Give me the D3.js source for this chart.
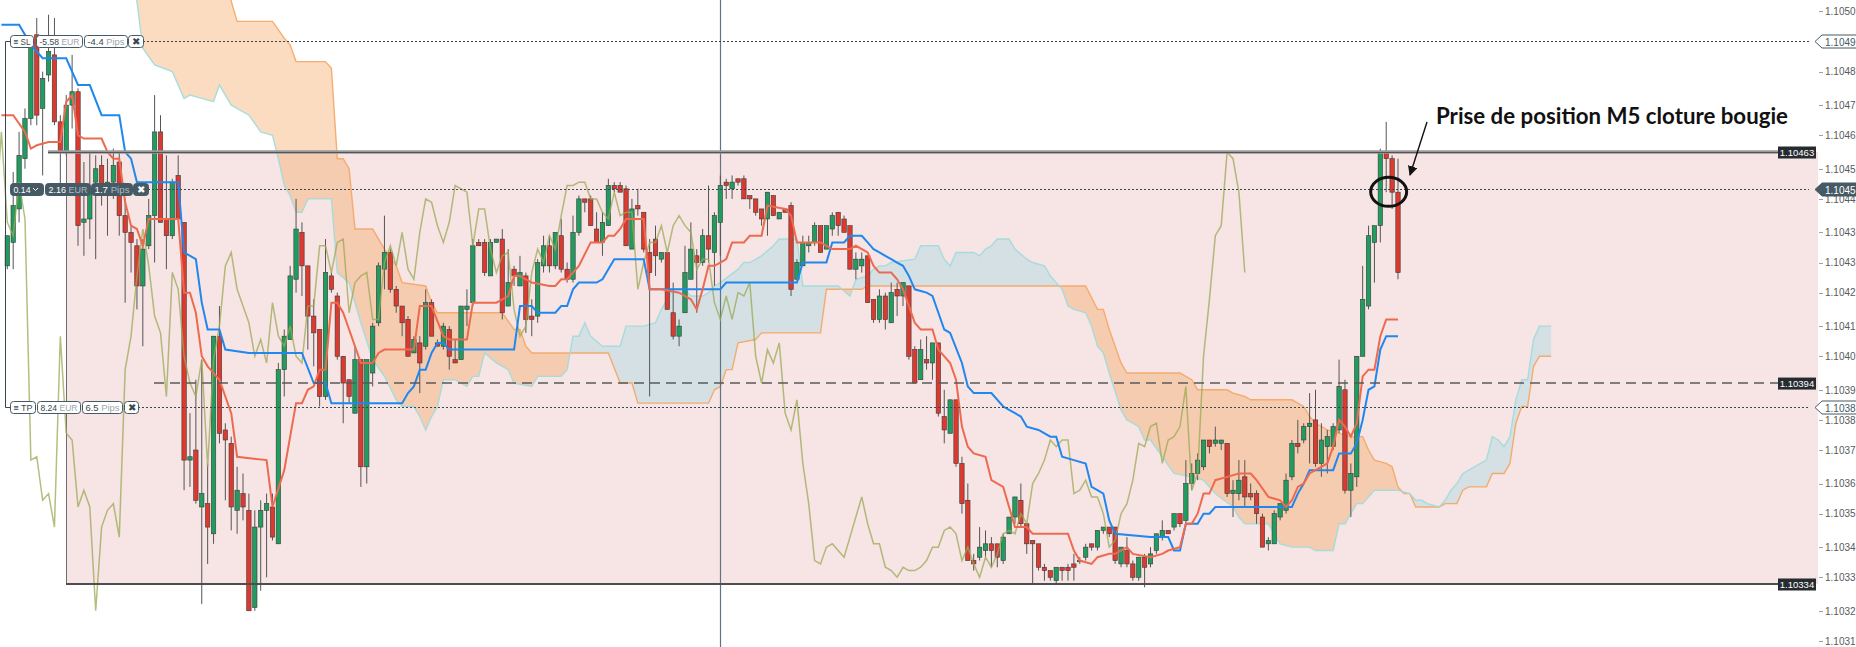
<!DOCTYPE html>
<html>
<head>
<meta charset="utf-8">
<script src="https://cdn.jsdelivr.net/npm/d3@7"></script>
<style>
  html, body { margin: 0; padding: 0; background: #fff; overflow: hidden; }
  svg { display: block; font-family: "Liberation Sans", Arial, sans-serif; }
</style>
</head>
<body>
<svg id="MyGraph" width="1856" height="647"></svg>
<script>
// ---- candles, M1 bars, [open, high, low, close]
var ohlc = [
[1.10429,1.10438,1.10428,1.10438],[1.10436,1.10457,1.10428,1.10447],[1.10446,1.10469,1.10442,1.10462],[1.10461,1.10476,1.10458,1.10473],
[1.10473,1.10497,1.10471,1.10496],[1.10498,1.10503,1.10471,1.10474],[1.10476,1.10487,1.10456,1.10485],[1.10486,1.10504,1.10484,1.10493],
[1.10492,1.10503,1.10471,1.10472],[1.10472,1.10474,1.10453,1.10463],[1.10463,1.10480,1.10462,1.10477],[1.10477,1.10492,1.10470,1.10481],
[1.10481,1.10482,1.10435,1.10441],[1.10442,1.10460,1.10432,1.10443],[1.10443,1.10463,1.10437,1.10451],[1.10454,1.10462,1.10431,1.10458],
[1.10459,1.10462,1.10447,1.10453],[1.10453,1.10461,1.10438,1.10454],[1.10454,1.10464,1.10449,1.10459],[1.10460,1.10463,1.10438,1.10444],
[1.10444,1.10449,1.10418,1.10439],[1.10439,1.10441,1.10427,1.10436],[1.10435,1.10437,1.10416,1.10423],[1.10423,1.10437,1.10405,1.10434],
[1.10435,1.10449,1.10434,1.10444],[1.10444,1.10480,1.10430,1.10469],[1.10469,1.10474,1.10442,1.10442],[1.10443,1.10462,1.10428,1.10438],
[1.10438,1.10455,1.10437,1.10454],[1.10456,1.10462,1.10443,1.10443],[1.10442,1.10442,1.10362,1.10371],[1.10371,1.10385,1.10363,1.10372],
[1.10374,1.10395,1.10358,1.10359],[1.10357,1.10401,1.10328,1.10361],[1.10358,1.10370,1.10340,1.10351],[1.10349,1.10408,1.10346,1.10408],
[1.10408,1.10417,1.10376,1.10379],[1.10380,1.10382,1.10359,1.10377],[1.10376,1.10378,1.10350,1.10357],[1.10356,1.10369,1.10349,1.10362],
[1.10361,1.10367,1.10353,1.10357],[1.10356,1.10361,1.10326,1.10326],[1.10327,1.10356,1.10326,1.10351],[1.10351,1.10359,1.10332,1.10356],
[1.10356,1.10361,1.10336,1.10358],[1.10357,1.10361,1.10347,1.10348],[1.10346,1.10400,1.10346,1.10398],[1.10398,1.10410,1.10390,1.10408],
[1.10407,1.10429,1.10407,1.10426],[1.10425,1.10449,1.10421,1.10440],[1.10439,1.10442,1.10420,1.10429],[1.10429,1.10429,1.10404,1.10414],
[1.10414,1.10419,1.10399,1.10409],[1.10410,1.10410,1.10387,1.10390],[1.10390,1.10437,1.10389,1.10427],[1.10426,1.10427,1.10421,1.10422],
[1.10420,1.10421,1.10401,1.10402],[1.10402,1.10402,1.10382,1.10394],[1.10395,1.10395,1.10388,1.10390],[1.10385,1.10405,1.10385,1.10401],
[1.10401,1.10401,1.10363,1.10369],[1.10369,1.10401,1.10364,1.10401],[1.10397,1.10412,1.10393,1.10411],[1.10412,1.10430,1.10411,1.10429],
[1.10428,1.10444,1.10422,1.10433],[1.10433,1.10434,1.10421,1.10422],[1.10422,1.10423,1.10415,1.10417],[1.10417,1.10417,1.10408,1.10412],
[1.10413,1.10414,1.10402,1.10402],[1.10403,1.10408,1.10403,1.10407],[1.10406,1.10408,1.10391,1.10400],[1.10405,1.10422,1.10404,1.10418],
[1.10418,1.10419,1.10408,1.10408],[1.10406,1.10407,1.10405,1.10405],[1.10405,1.10412,1.10404,1.10411],[1.10410,1.10411,1.10398,1.10402],
[1.10401,1.10407,1.10400,1.10400],[1.10401,1.10417,1.10401,1.10417],[1.10416,1.10422,1.10411,1.10417],[1.10418,1.10437,1.10417,1.10435],
[1.10436,1.10437,1.10435,1.10435],[1.10436,1.10437,1.10426,1.10427],[1.10426,1.10437,1.10426,1.10436],[1.10436,1.10437,1.10436,1.10437],
[1.10437,1.10440,1.10413,1.10415],[1.10417,1.10434,1.10417,1.10424],[1.10428,1.10429,1.10423,1.10426],[1.10423,1.10432,1.10423,1.10427],
[1.10426,1.10427,1.10409,1.10413],[1.10414,1.10419,1.10408,1.10413],[1.10414,1.10431,1.10412,1.10430],[1.10429,1.10438,1.10427,1.10435],
[1.10435,1.10438,1.10427,1.10429],[1.10429,1.10439,1.10428,1.10439],[1.10438,1.10443,1.10427,1.10428],[1.10428,1.10430,1.10424,1.10425],
[1.10425,1.10444,1.10424,1.10439],[1.10439,1.10450,1.10438,1.10449],[1.10449,1.10449,1.10445,1.10448],[1.10449,1.10450,1.10441,1.10441],
[1.10440,1.10445,1.10436,1.10436],[1.10436,1.10445,1.10432,1.10442],[1.10441,1.10455,1.10441,1.10453],[1.10453,1.10454,1.10451,1.10452],
[1.10453,1.10454,1.10451,1.10451],[1.10452,1.10453,1.10435,1.10435],[1.10434,1.10449,1.10434,1.10446],[1.10447,1.10452,1.10444,1.10446],
[1.10445,1.10445,1.10433,1.10434],[1.10433,1.10437,1.10390,1.10427],[1.10437,1.10441,1.10426,1.10432],[1.10431,1.10433,1.10430,1.10433],
[1.10433,1.10433,1.10416,1.10416],[1.10415,1.10424,1.10407,1.10408],[1.10408,1.10413,1.10405,1.10411],[1.10415,1.10435,1.10415,1.10427],
[1.10425,1.10442,1.10425,1.10434],[1.10432,1.10434,1.10415,1.10430],[1.10430,1.10440,1.10429,1.10438],[1.10438,1.10453,1.10430,1.10434],
[1.10433,1.10445,1.10423,1.10444],[1.10442,1.10456,1.10432,1.10453],[1.10454,1.10455,1.10449,1.10453],[1.10452,1.10456,1.10449,1.10454],
[1.10455,1.10455,1.10453,1.10454],[1.10455,1.10456,1.10449,1.10449],[1.10450,1.10450,1.10446,1.10449],[1.10449,1.10449,1.10444,1.10445],
[1.10446,1.10446,1.10441,1.10443],[1.10443,1.10451,1.10438,1.10451],[1.10450,1.10450,1.10444,1.10444],[1.10443,1.10445,1.10443,1.10445],
[1.10446,1.10446,1.10445,1.10445],[1.10447,1.10448,1.10420,1.10422],[1.10425,1.10431,1.10425,1.10430],[1.10429,1.10438,1.10429,1.10436],
[1.10435,1.10438,1.10433,1.10436],[1.10436,1.10442,1.10435,1.10441],[1.10441,1.10441,1.10433,1.10433],[1.10434,1.10441,1.10434,1.10441],
[1.10440,1.10445,1.10438,1.10444],[1.10445,1.10445,1.10438,1.10441],[1.10443,1.10444,1.10439,1.10439],[1.10441,1.10441,1.10428,1.10428],
[1.10428,1.10433,1.10425,1.10431],[1.10429,1.10433,1.10427,1.10431],[1.10432,1.10432,1.10418,1.10418],[1.10419,1.10419,1.10412,1.10413],
[1.10413,1.10422,1.10412,1.10420],[1.10420,1.10421,1.10410,1.10413],[1.10412,1.10424,1.10412,1.10421],[1.10422,1.10424,1.10414,1.10420],
[1.10420,1.10424,1.10417,1.10424],[1.10423,1.10423,1.10401,1.10402],[1.10404,1.10405,1.10394,1.10394],[1.10395,1.10407,1.10395,1.10404],
[1.10401,1.10408,1.10398,1.10400],[1.10400,1.10406,1.10395,1.10406],[1.10406,1.10406,1.10384,1.10385],[1.10384,1.10392,1.10376,1.10380],
[1.10379,1.10389,1.10379,1.10389],[1.10389,1.10389,1.10369,1.10370],[1.10370,1.10372,1.10355,1.10358],[1.10359,1.10364,1.10341,1.10341],
[1.10341,1.10343,1.10338,1.10340],[1.10342,1.10351,1.10341,1.10345],[1.10344,1.10350,1.10342,1.10346],[1.10346,1.10348,1.10339,1.10344],
[1.10346,1.10346,1.10339,1.10342],[1.10341,1.10349,1.10340,1.10348],[1.10349,1.10354,1.10349,1.10354],[1.10354,1.10360,1.10352,1.10360],
[1.10359,1.10364,1.10351,1.10352],[1.10352,1.10352,1.10343,1.10346],[1.10347,1.10347,1.10334,1.10346],[1.10346,1.10346,1.10338,1.10339],
[1.10339,1.10340,1.10335,1.10338],[1.10338,1.10338,1.10335,1.10336],[1.10335,1.10339,1.10334,1.10339],[1.10339,1.10339,1.10335,1.10338],
[1.10339,1.10340,1.10335,1.10338],[1.10340,1.10343,1.10335,1.10339],[1.10341,1.10342,1.10340,1.10341],[1.10342,1.10346,1.10341,1.10345],
[1.10346,1.10346,1.10344,1.10345],[1.10345,1.10350,1.10344,1.10350],[1.10350,1.10351,1.10349,1.10351],[1.10351,1.10351,1.10348,1.10349],
[1.10351,1.10351,1.10340,1.10341],[1.10340,1.10345,1.10339,1.10345],[1.10344,1.10348,1.10339,1.10340],[1.10340,1.10341,1.10335,1.10336],
[1.10336,1.10342,1.10335,1.10342],[1.10342,1.10343,1.10333,1.10339],[1.10340,1.10345,1.10339,1.10343],[1.10344,1.10349,1.10343,1.10349],
[1.10348,1.10353,1.10347,1.10350],[1.10350,1.10350,1.10349,1.10349],[1.10351,1.10355,1.10350,1.10355],[1.10355,1.10355,1.10351,1.10352],
[1.10353,1.10371,1.10352,1.10364],[1.10364,1.10370,1.10362,1.10367],[1.10367,1.10373,1.10365,1.10371],[1.10369,1.10377,1.10368,1.10377],
[1.10377,1.10377,1.10373,1.10375],[1.10376,1.10381,1.10375,1.10377],[1.10376,1.10377,1.10374,1.10377],[1.10376,1.10376,1.10360,1.10361],
[1.10361,1.10365,1.10354,1.10362],[1.10361,1.10371,1.10359,1.10365],[1.10366,1.10371,1.10357,1.10360],[1.10361,1.10364,1.10359,1.10360],
[1.10361,1.10362,1.10352,1.10355],[1.10354,1.10355,1.10345,1.10345],[1.10346,1.10348,1.10344,1.10347],[1.10346,1.10356,1.10346,1.10355],
[1.10354,1.10358,1.10353,1.10358],[1.10356,1.10367,1.10355,1.10365],[1.10366,1.10377,1.10365,1.10376],[1.10376,1.10383,1.10373,1.10375],
[1.10377,1.10382,1.10376,1.10381],[1.10381,1.10391,1.10370,1.10382],[1.10383,1.10392,1.10369,1.10370],[1.10370,1.10382,1.10366,1.10377],
[1.10375,1.10380,1.10367,1.10378],[1.10375,1.10382,1.10374,1.10381],[1.10380,1.10401,1.10379,1.10393],[1.10392,1.10395,1.10361,1.10362],
[1.10362,1.10370,1.10354,1.10367],[1.10366,1.10402,1.10363,1.10402],[1.10402,1.10429,1.10402,1.10419],[1.10417,1.10441,1.10416,1.10438],
[1.10436,1.10441,1.10424,1.10441],[1.10441,1.10464,1.10436,1.10463],[1.10463,1.10472,1.10451,1.10461],[1.10461,1.10462,1.10446,1.10451],
[1.10451,1.10461,1.10425,1.10427]
];

// ---- Ichimoku lines, [bar index, price]
var tenkan = [[-1,1.10474],[1,1.10474],[3,1.10469],[4,1.10464],[5,1.10465],[7,1.10466],[9,1.10466],[10,1.10478],[11,1.10480],[12,1.10468],[13,1.10467],[16,1.10467],[17,1.10463],[18,1.10461],[19,1.10461],[20,1.10448],[21,1.10441],[22,1.10440],[23,1.10435],[24,1.10443],[25,1.10443],[29,1.10443],[30,1.10421],[31,1.10421],[32,1.10415],[33,1.10402],[34,1.10399],[36,1.10395],[38,1.10385],[39,1.10372],[44,1.10371],[45,1.10357],[47,1.10368],[48,1.10378],[49,1.10388],[50,1.10388],[51,1.10392],[52,1.10393],[53,1.10398],[54,1.10398],[55,1.10418],[56,1.10418],[57,1.10415],[58,1.10410],[60,1.10400],[62,1.10400],[63,1.10403],[64,1.10404],[69,1.10404],[70,1.10417],[72,1.10417],[74,1.10408],[75,1.10407],[78,1.10407],[79,1.10418],[83,1.10418],[85,1.10420],[86,1.10426],[87,1.10426],[88,1.10425],[89,1.10424],[92,1.10423],[93,1.10423],[94,1.10425],[95,1.10425],[96,1.10427],[97,1.10429],[99,1.10436],[101,1.10436],[102,1.10438],[103,1.10438],[104,1.10440],[105,1.10443],[108,1.10443],[109,1.10422],[111,1.10422],[114,1.10421],[116,1.10419],[117,1.10416],[118,1.10422],[119,1.10429],[120,1.10429],[121,1.10430],[122,1.10431],[123,1.10436],[125,1.10436],[126,1.10438],[128,1.10438],[129,1.10447],[132,1.10446],[133,1.10444],[134,1.10436],[135,1.10436],[138,1.10436],[139,1.10435],[140,1.10434],[143,1.10434],[144,1.10435],[146,1.10433],[147,1.10429],[148,1.10427],[150,1.10427],[151,1.10425],[152,1.10422],[153,1.10417],[154,1.10412],[155,1.10410],[157,1.10410],[158,1.10404],[160,1.10400],[161,1.10395],[162,1.10381],[163,1.10375],[164,1.10373],[166,1.10372],[167,1.10365],[169,1.10363],[170,1.10357],[171,1.10351],[173,1.10351],[174,1.10349],[180,1.10349],[181,1.10344],[182,1.10341],[184,1.10340],[185,1.10342],[187,1.10343],[188,1.10343],[190,1.10345],[191,1.10343],[194,1.10342],[196,1.10343],[197,1.10344],[199,1.10345],[200,1.10352],[201,1.10352],[202,1.10355],[203,1.10361],[204,1.10361],[205,1.10365],[207,1.10366],[209,1.10367],[211,1.10367],[212,1.10365],[214,1.10360],[216,1.10359],[217,1.10357],[218,1.10359],[219,1.10363],[220,1.10364],[221,1.10367],[222,1.10368],[224,1.10370],[225,1.10375],[226,1.10383],[227,1.10381],[228,1.10378],[229,1.10382],[230,1.10396],[231,1.10398],[232,1.10398],[233,1.10408],[234,1.10413],[236,1.10413]];

var kijun = [[-1,1.10501],[2,1.10501],[4,1.10495],[6,1.10491],[10,1.10491],[12,1.10483],[14,1.10483],[16,1.10474],[19,1.10474],[20,1.10463],[21,1.10461],[22,1.10454],[29,1.10454],[30,1.10433],[32,1.10431],[33,1.10418],[34,1.10410],[36,1.10410],[37,1.10404],[41,1.10403],[50,1.10403],[52,1.10394],[54,1.10394],[55,1.10388],[67,1.10388],[68,1.10391],[69,1.10393],[70,1.10398],[71,1.10398],[72,1.10403],[73,1.10406],[74,1.10406],[75,1.10404],[86,1.10404],[87,1.10417],[89,1.10417],[90,1.10415],[93,1.10415],[94,1.10417],[95,1.10417],[96,1.10422],[97,1.10424],[100,1.10424],[101,1.10425],[102,1.10428],[103,1.10431],[108,1.10431],[109,1.10422],[121,1.10422],[122,1.10424],[134,1.10424],[135,1.10430],[139,1.10430],[140,1.10436],[142,1.10436],[143,1.10438],[145,1.10438],[146,1.10436],[147,1.10434],[148,1.10433],[149,1.10432],[150,1.10431],[151,1.10430],[152,1.10429],[153,1.10426],[154,1.10422],[156,1.10421],[157,1.10420],[158,1.10415],[159,1.10410],[160,1.10409],[162,1.10400],[163,1.10393],[164,1.10391],[167,1.10391],[169,1.10387],[171,1.10385],[172,1.10384],[173,1.10381],[175,1.10380],[177,1.10378],[178,1.10378],[179,1.10372],[181,1.10371],[183,1.10370],[184,1.10363],[185,1.10362],[186,1.10361],[187,1.10353],[188,1.10349],[194,1.10348],[197,1.10348],[198,1.10344],[199,1.10344],[200,1.10352],[202,1.10352],[203,1.10355],[204,1.10355],[205,1.10357],[218,1.10357],[219,1.10361],[220,1.10364],[221,1.10368],[225,1.10368],[226,1.10373],[228,1.10373],[229,1.10376],[230,1.10383],[231,1.10392],[232,1.10393],[233,1.10404],[234,1.10408],[236,1.10408]];

var senkouA = [[20,1.10520],[22,1.10508],[23,1.10494],[25,1.10489],[28,1.10487],[30,1.10479],[31,1.10480],[33,1.10479],[35,1.10478],[36,1.10483],[38,1.10477],[41,1.10474],[43,1.10469],[45,1.10468],[46,1.10461],[47,1.10453],[48,1.10450],[49,1.10445],[50,1.10445],[51,1.10449],[55,1.10449],[56,1.10427],[58,1.10424],[60,1.10412],[62,1.10401],[64,1.10396],[66,1.10389],[67,1.10387],[69,1.10387],[70,1.10384],[71,1.10380],[72,1.10384],[73,1.10387],[74,1.10395],[76,1.10395],[78,1.10393],[79,1.10396],[80,1.10396],[81,1.10403],[83,1.10400],[85,1.10398],[86,1.10394],[89,1.10393],[90,1.10396],[94,1.10396],[95,1.10398],[96,1.10408],[97,1.10408],[98,1.10412],[99,1.10408],[101,1.10405],[104,1.10405],[105,1.10411],[108,1.10411],[110,1.10412],[111,1.10416],[113,1.10422],[115,1.10422],[116,1.10420],[118,1.10420],[119,1.10421],[120,1.10423],[121,1.10424],[124,1.10428],[125,1.10430],[126,1.10430],[128,1.10432],[130,1.10435],[131,1.10437],[134,1.10437],[135,1.10423],[141,1.10423],[143,1.10420],[144,1.10425],[146,1.10426],[147,1.10428],[148,1.10429],[149,1.10429],[150,1.10430],[154,1.10431],[155,1.10435],[158,1.10435],[159,1.10431],[160,1.10429],[161,1.10433],[164,1.10433],[165,1.10432],[166,1.10434],[167,1.10435],[168,1.10437],[170,1.10437],[171,1.10434],[173,1.10431],[174,1.10430],[176,1.10429],[177,1.10426],[179,1.10422],[180,1.10417],[181,1.10416],[183,1.10415],[184,1.10411],[185,1.10405],[186,1.10403],[187,1.10397],[189,1.10386],[190,1.10383],[191,1.10382],[192,1.10381],[193,1.10377],[194,1.10377],[196,1.10372],[198,1.10367],[201,1.10366],[203,1.10365],[205,1.10361],[208,1.10357],[209,1.10354],[210,1.10352],[214,1.10352],[216,1.10346],[218,1.10345],[221,1.10345],[222,1.10344],[225,1.10344],[226,1.10352],[227,1.10352],[229,1.10358],[230,1.10358],[232,1.10362],[236,1.10362],[238,1.10361],[239,1.10359],[240,1.10359],[241,1.10358],[243,1.10357],[244,1.10359],[245,1.10362],[246,1.10364],[247,1.10367],[248,1.10368],[250,1.10370],[251,1.10371],[252,1.10378],[253,1.10377],[254,1.10375],[255,1.10378],[256,1.10389],[257,1.10395],[258,1.10395],[259,1.10407],[260,1.10411],[262,1.10411]];

var senkouB = [[20,1.10540],[37,1.10530],[38,1.10508],[39,1.10502],[45,1.10502],[47,1.10497],[48,1.10495],[49,1.10490],[54,1.10490],[55,1.10488],[56,1.10461],[57,1.10461],[58,1.10458],[59,1.10440],[62,1.10440],[64,1.10434],[66,1.10429],[67,1.10424],[71,1.10423],[72,1.10418],[73,1.10415],[84,1.10415],[86,1.10410],[87,1.10410],[88,1.10405],[89,1.10403],[102,1.10403],[104,1.10394],[106,1.10394],[107,1.10388],[119,1.10388],[120,1.10392],[121,1.10393],[122,1.10398],[123,1.10398],[124,1.10406],[127,1.10407],[128,1.10409],[138,1.10409],[139,1.10422],[145,1.10422],[146,1.10423],[183,1.10423],[185,1.10416],[186,1.10416],[187,1.10410],[189,1.10400],[190,1.10397],[199,1.10397],[201,1.10395],[202,1.10392],[207,1.10392],[208,1.10391],[210,1.10390],[211,1.10389],[218,1.10389],[220,1.10387],[221,1.10384],[222,1.10382],[224,1.10380],[228,1.10378],[230,1.10378],[231,1.10374],[232,1.10371],[234,1.10370],[235,1.10369],[236,1.10363],[237,1.10361],[238,1.10361],[239,1.10357],[243,1.10357],[244,1.10358],[246,1.10358],[247,1.10362],[248,1.10363],[251,1.10363],[252,1.10367],[254,1.10367],[255,1.10370],[256,1.10382],[257,1.10387],[258,1.10387],[259,1.10399],[260,1.10402],[262,1.10402]];

var chikouShift = 26;

// ---- price levels
var boxLevels = [1.10463, 1.10394, 1.10334];   // top, middle (dashed), bottom
var orderLevels = { sl: 1.10496, entry: 1.10452, tp: 1.10387 };
var tickValues = [1.10505,1.10496,1.10487,1.10477,1.10468,1.10458,1.10449,1.10439,1.10430,1.10421,1.10411,1.10402,1.10392,1.10383,1.10374,1.10364,1.10355,1.10345,1.10336,1.10326,1.10317];

var slTags = [["\u2261 SL", ""], ["-5.58", " EUR"], ["-4.4", " Pips"], ["\u2716", ""]];
var entryTags = [["0.14", ""], ["2.16", " EUR"], ["1.7", " Pips"], ["\u2716", ""]];
var tpTags = [["\u2261 TP", ""], ["8.24", " EUR"], ["6.5", " Pips"], ["\u2716", ""]];
var noteText = "Prise de position M5 cloture bougie";

// ---------------------------------------------------------------
var W = 1856, H = 647, plotRight = 1818;
var svg = d3.select("#MyGraph");

var x = d3.scaleLinear().domain([0, ohlc.length - 1]).range([7.3, 1398]);
var y = d3.scaleLinear().domain([boxLevels[2], boxLevels[0]]).range([584, 152]);

// axis shows the price cut to 4 decimals
var axisFmt = function(v){ return (Math.floor(v * 1e4 + 1e-6) / 1e4).toFixed(4); };

var defs = svg.append("defs");
defs.append("clipPath").attr("id", "plotClip")
    .append("rect").attr("x", 0).attr("y", 0).attr("width", plotRight).attr("height", H);

var line = d3.line().x(function(d){ return x(d[0]); }).y(function(d){ return y(d[1]); });
var areaDown = d3.area().x(function(d){ return x(d[0]); }).y0(H).y1(function(d){ return y(d[1]); });
var areaUp = d3.area().x(function(d){ return x(d[0]); }).y0(0).y1(function(d){ return y(d[1]); });

defs.append("clipPath").attr("id", "aboveA").append("path").attr("d", areaUp(senkouA));
defs.append("clipPath").attr("id", "aboveB").append("path").attr("d", areaUp(senkouB));

var plot = svg.append("g").attr("clip-path", "url(#plotClip)");

// pink range box
plot.append("rect")
    .attr("x", 66).attr("y", y(boxLevels[0]))
    .attr("width", plotRight - 66).attr("height", y(boxLevels[2]) - y(boxLevels[0]))
    .attr("fill", "#f7e4e4");
plot.append("line").attr("x1", 66.5).attr("x2", 66.5)
    .attr("y1", y(boxLevels[0])).attr("y2", y(boxLevels[2]))
    .attr("stroke", "#6d6d6d").attr("stroke-width", 1);

// cloud
var cloud = plot.append("g");
cloud.append("g").attr("clip-path", "url(#aboveA)")
    .append("path").attr("d", areaDown(senkouB)).attr("fill", "#f6a865").attr("fill-opacity", 0.4);
cloud.append("g").attr("clip-path", "url(#aboveB)")
    .append("path").attr("d", areaDown(senkouA)).attr("fill", "#a8dce2").attr("fill-opacity", 0.45);
cloud.append("path").attr("d", line(senkouB)).attr("fill", "none")
    .attr("stroke", "#f4a663").attr("stroke-width", 1.4).attr("stroke-opacity", 0.9);
cloud.append("path").attr("d", line(senkouA)).attr("fill", "none")
    .attr("stroke", "#9fdbdc").attr("stroke-width", 1.4).attr("stroke-opacity", 0.9);

// crosshair
plot.append("line").attr("x1", 720.5).attr("x2", 720.5).attr("y1", 0).attr("y2", H)
    .attr("stroke", "#5f7486").attr("stroke-width", 1.2);

// candles
var green = "#1f9d5e", red = "#dc3a2f";
var candles = plot.append("g").selectAll("g").data(ohlc).enter().append("g");
candles.append("line")
    .attr("x1", function(d, i){ return x(i); }).attr("x2", function(d, i){ return x(i); })
    .attr("y1", function(d){ return y(d[1]); }).attr("y2", function(d){ return y(d[2]); })
    .attr("stroke", "#555").attr("stroke-width", 1);
candles.append("rect")
    .attr("x", function(d, i){ return x(i) - 2.2; })
    .attr("width", 4.4)
    .attr("y", function(d){ return y(Math.max(d[0], d[3])); })
    .attr("height", function(d){ return Math.max(1.2, Math.abs(y(d[0]) - y(d[3]))); })
    .attr("fill", function(d){ return d[3] >= d[0] ? green : red; })
    .attr("stroke", "#3a3a3a").attr("stroke-width", 0.6);

// chikou span: close shifted back 26 bars
var chikou = ohlc.map(function(d, i){ return [i - chikouShift, d[3]]; }).filter(function(d){ return d[0] >= -3; });
plot.append("path").attr("d", line(chikou)).attr("fill", "none")
    .attr("stroke", "#9aa954").attr("stroke-width", 1.5).attr("stroke-opacity", 0.75);

plot.append("path").attr("d", line(kijun)).attr("fill", "none")
    .attr("stroke", "#1f87ee").attr("stroke-width", 2);
plot.append("path").attr("d", line(tenkan)).attr("fill", "none")
    .attr("stroke", "#ee6a4f").attr("stroke-width", 2);

// box borders and middle dashed level
var over = svg.append("g");
over.append("line").attr("x1", 48).attr("x2", 1779)
    .attr("y1", y(boxLevels[0])).attr("y2", y(boxLevels[0]))
    .attr("stroke", "#9a9a9a").attr("stroke-width", 3.5);
over.append("line").attr("x1", 48).attr("x2", 1779)
    .attr("y1", y(boxLevels[0]) + 0.5).attr("y2", y(boxLevels[0]) + 0.5)
    .attr("stroke", "#555").attr("stroke-width", 1);
over.append("line").attr("x1", 66).attr("x2", 1779)
    .attr("y1", y(boxLevels[2])).attr("y2", y(boxLevels[2]))
    .attr("stroke", "#4e4e4e").attr("stroke-width", 2);
over.append("line").attr("x1", 154).attr("x2", 1779)
    .attr("y1", y(boxLevels[1])).attr("y2", y(boxLevels[1]))
    .attr("stroke", "#5a5a5a").attr("stroke-width", 1.4).attr("stroke-dasharray", "10,6");

// order lines (dotted)
var orderStarts = { sl: 143, entry: 148, tp: 138 };
Object.keys(orderLevels).forEach(function(k){
  over.append("line").attr("x1", orderStarts[k]).attr("x2", 1809)
      .attr("y1", Math.round(y(orderLevels[k])) + 0.5).attr("y2", Math.round(y(orderLevels[k])) + 0.5)
      .attr("stroke", "#37474f").attr("stroke-width", 1).attr("stroke-dasharray", "2,2");
});

// left connector SL -> TP
var ySL = Math.round(y(orderLevels.sl)) + 0.5, yTP = Math.round(y(orderLevels.tp)) + 0.5;
over.append("path").attr("d", "M10," + ySL + "H5.5V" + yTP + "H10")
    .attr("fill", "none").attr("stroke", "#37474f").attr("stroke-width", 1);

function tagRow(tags, xs, ws, cy, dark, padLeft) {
  var g = over.append("g").attr("font-size", 9.5);
  tags.forEach(function(t, i){
    g.append("rect").attr("x", xs[i] + 0.5).attr("y", cy - 6).attr("width", ws[i]).attr("height", 12).attr("rx", 3)
        .attr("fill", dark ? "#455a64" : "#fff").attr("stroke", "#455a64").attr("stroke-width", 1);
    var inner = ws[i] - 6 - (i === 0 ? padLeft : 0);
    var txt = g.append("text").attr("x", xs[i] + 3.5).attr("y", cy + 3.6);
    if (t[0].length + t[1].length > 3) {
      txt.attr("textLength", inner).attr("lengthAdjust", "spacingAndGlyphs");
    } else {
      txt.attr("x", xs[i] + ws[i] / 2 + 0.5).attr("text-anchor", "middle");
    }
    txt.append("tspan").attr("fill", dark ? "#ffffff" : "#37474f").text(t[0]);
    if (t[1]) txt.append("tspan").attr("fill", dark ? "#aab8c0" : "#a0a6aa").text(t[1]);
  });
  return g;
}
tagRow(slTags, [10, 36, 84, 128], [23, 46, 43, 15], ySL, false, 0);
var yE = Math.round(y(orderLevels.entry)) + 0.5;
var eRow = tagRow(entryTags, [10, 45, 91, 133], [33, 45, 41, 15], yE, true, 10);
eRow.append("path").attr("d", "M33," + (yE - 1.5) + "l2.5,2.5l2.5,-2.5")
    .attr("fill", "none").attr("stroke", "#fff").attr("stroke-width", 1);
tagRow(tpTags, [10, 37, 82, 124], [25, 43, 40, 14], yTP, false, 0);

// right axis
var axisG = svg.append("g");
axisG.append("rect").attr("x", plotRight + 1).attr("y", 0).attr("width", W - plotRight).attr("height", H).attr("fill", "#fff");
axisG.selectAll("line.tick").data(tickValues).enter().append("line")
    .attr("x1", 1819).attr("x2", 1823)
    .attr("y1", function(d){ return Math.round(y(d)) + 0.5; }).attr("y2", function(d){ return Math.round(y(d)) + 0.5; })
    .attr("stroke", "#9aa0a6").attr("stroke-width", 1);
axisG.selectAll("text.tick").data(tickValues).enter().append("text")
    .attr("x", 1825).attr("y", function(d){ return y(d) + 3.8; })
    .attr("font-size", 10).attr("fill", "#5a5a5a")
    .text(axisFmt);

// dark price labels on the box levels
boxLevels.forEach(function(v){
  var cy = y(v);
  over.append("rect").attr("x", 1778).attr("y", cy - 5.5).attr("width", 38).attr("height", 12).attr("fill", "#262b30");
  over.append("text").attr("x", 1797).attr("y", cy + 4).attr("text-anchor", "middle")
      .attr("font-size", 9.5).attr("fill", "#fff").text(d3.format(".5f")(v));
});

// order price labels on axis
[["sl", false], ["entry", true], ["tp", false]].forEach(function(o){
  var cy = Math.round(y(orderLevels[o[0]])) + 0.5;
  axisG.append("path")
      .attr("d", "M1815," + cy + "L1822," + (cy - 6.5) + "H1860V" + (cy + 6.5) + "H1822Z")
      .attr("fill", o[1] ? "#455a64" : "#fff").attr("stroke", "#455a64").attr("stroke-width", 1);
  axisG.append("text").attr("x", 1825).attr("y", cy + 4).attr("font-size", 10)
      .attr("fill", o[1] ? "#fff" : "#455a64").text(axisFmt(orderLevels[o[0]]));
});

// annotation
var note = svg.append("g");
note.append("ellipse").attr("cx", x(234.5) - 0.5).attr("cy", y(orderLevels.entry) + 3)
    .attr("rx", 18).attr("ry", 14.5).attr("fill", "none").attr("stroke", "#111").attr("stroke-width", 3);
defs.append("marker").attr("id", "arrowHead").attr("viewBox", "0 0 10 10").attr("refX", 9).attr("refY", 5)
    .attr("markerWidth", 7).attr("markerHeight", 7).attr("orient", "auto")
    .append("path").attr("d", "M0,0L10,5L0,10Z").attr("fill", "#111");
note.append("line").attr("x1", 1427).attr("y1", 122).attr("x2", 1410).attr("y2", 175)
    .attr("stroke", "#111").attr("stroke-width", 1.4).attr("marker-end", "url(#arrowHead)");
note.append("text").attr("x", 1436).attr("y", 124)
    .attr("font-family", "Lato, 'Open Sans', sans-serif").attr("font-weight", "bold")
    .attr("font-size", 22).attr("fill", "#111")
    .attr("textLength", 352).attr("lengthAdjust", "spacingAndGlyphs")
    .text(noteText);
</script>
</body>
</html>
